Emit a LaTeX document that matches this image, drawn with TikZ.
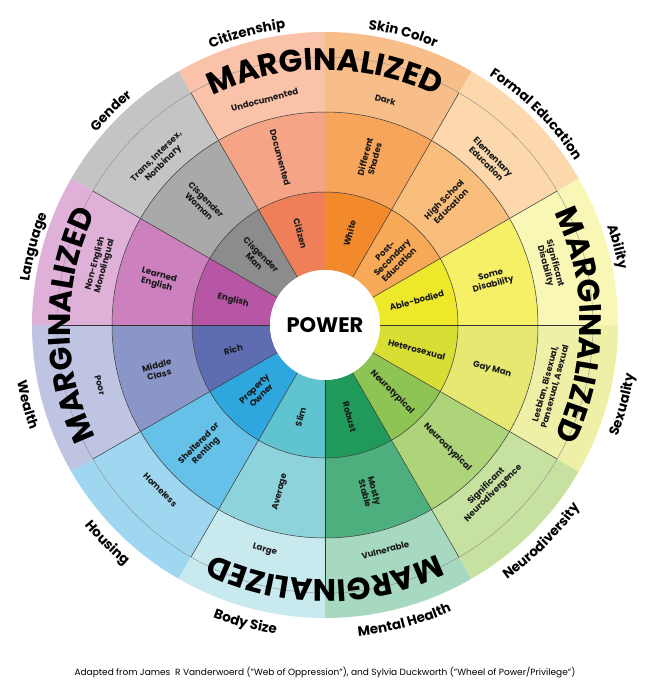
\documentclass[tikz,border=0pt]{standalone}
\usepackage{fontspec}
\setmainfont{Poppins}
\usetikzlibrary{decorations.text}
\newcommand{\margfont}{\fontsize{31}{31}\selectfont\bfseries}
\newcommand{\lblfont}{\fontsize{13.5}{14}\selectfont\bfseries}
\definecolor{ci1}{HTML}{EF7F58}\definecolor{cm1}{HTML}{F5A486}\definecolor{co1}{HTML}{F9C2A9}
\definecolor{ci2}{HTML}{8C8C8C}\definecolor{cm2}{HTML}{A9A9A9}\definecolor{co2}{HTML}{C4C4C4}
\definecolor{ci3}{HTML}{B656A5}\definecolor{cm3}{HTML}{CC80BE}\definecolor{co3}{HTML}{E0B1D8}
\definecolor{ci4}{HTML}{5E6DB2}\definecolor{cm4}{HTML}{8B96C8}\definecolor{co4}{HTML}{BFC4E2}
\definecolor{ci5}{HTML}{2EA6DE}\definecolor{cm5}{HTML}{66C1E8}\definecolor{co5}{HTML}{9FD7F0}
\definecolor{ci6}{HTML}{60C3D0}\definecolor{cm6}{HTML}{8ED2DC}\definecolor{co6}{HTML}{C8E9EE}
\definecolor{ci7}{HTML}{1F9A5A}\definecolor{cm7}{HTML}{4CAF7D}\definecolor{co7}{HTML}{A6D9BF}
\definecolor{ci8}{HTML}{8DC453}\definecolor{cm8}{HTML}{AED47A}\definecolor{co8}{HTML}{C7E1A0}
\definecolor{ci9}{HTML}{D9DE35}\definecolor{cm9}{HTML}{E6E871}\definecolor{co9}{HTML}{EEF0A8}
\definecolor{ci10}{HTML}{EEE82A}\definecolor{cm10}{HTML}{F5F066}\definecolor{co10}{HTML}{F9F7B5}
\definecolor{ci11}{HTML}{F8A957}\definecolor{cm11}{HTML}{F9BD7C}\definecolor{co11}{HTML}{FCD8AC}
\definecolor{ci12}{HTML}{F28A2B}\definecolor{cm12}{HTML}{F6A55A}\definecolor{co12}{HTML}{F8BE8A}
\begin{document}
\begin{tikzpicture}[x=1pt,y=1pt,
  seg/.style={font=\fontsize{8.6}{9.8}\selectfont\bfseries, align=center, text=black!90, inner sep=1pt},
  upl/.style={decorate,decoration={text along path,text align=center,text={|\lblfont|#1}}},
  marg/.style={decorate,decoration={text along path,text align=center,text={|\margfont|MARGINALIZED}}}]
\useasboundingbox (-325,-372) rectangle (324,325);
\foreach \s/\k/\ti/\tm/\tu in {
 90/1/Citizen/Documented/Undocumented,
 120/2/{Cisgender\\Man}/{Cisgender\\Woman}/{Trans, Intersex,\\Nonbinary},
 150/3/English/{Learned\\English}/{Non-English\\Monolingual},
 180/4/Rich/{Middle\\Class}/Poor,
 210/5/{Property\\Owner}/{Sheltered or\\Renting}/Homeless,
 240/6/Slim/Average/Large,
 270/7/Robust/{Mostly\\Stable}/Vulnerable,
 300/8/Neurotypical/Neuroatypical/{Significant\\Neurodivergence},
 330/9/Heterosexual/{Gay Man}/{Lesbian, Bisexual,\\Pansexual, Asexual},
 0/10/Able-bodied/{Some\\Disability}/{Significant\\Disability},
 30/11/{Post-\\Secondary\\Education}/{High School\\Education}/{Elementary\\Education},
 60/12/White/{Different\\Shades}/Dark}{
  \pgfmathsetmacro\e{\s+30}
  \pgfmathsetmacro\m{\s+15}
  \pgfmathsetmacro\ri{mod(\m+450,180)-90}
  \pgfmathsetmacro\ro{mod(\m+540,180)-90}
  \fill[ci\k] (\s:55) arc[start angle=\s,end angle=\e,radius=55] -- (\e:133) arc[start angle=\e,end angle=\s,radius=133] -- cycle;
  \fill[cm\k] (\s:133) arc[start angle=\s,end angle=\e,radius=133] -- (\e:213) arc[start angle=\e,end angle=\s,radius=213] -- cycle;
  \fill[co\k] (\s:213) arc[start angle=\s,end angle=\e,radius=213] -- (\e:293) arc[start angle=\e,end angle=\s,radius=293] -- cycle;
  \draw[line width=0.5pt, black!80] (\s:55) -- (\s:268);
  \node[seg, rotate=\ri] (i\k) at (\m:95) {\ti};
  \node[seg, rotate=\ri] (m\k) at (\m:173) {\tm};
  \node[seg, rotate=\ro] (o\k) at (\m:233) {\tu};
}
\draw[line width=0.5pt, black!80] (0,0) circle[radius=133] (0,0) circle[radius=213];
\draw[line width=0.4pt, black!45] (0,0) circle[radius=268];
\fill[white] (0,0) circle[radius=55];
\node[font=\fontsize{21}{21}\selectfont\bfseries] (power) at (0,0) {POWER};
\path[marg] (118:255) arc[start angle=118,end angle=62,radius=255];
\path[marg] (28:255) arc[start angle=28,end angle=-28,radius=255];
\path[marg] (-62:255) arc[start angle=-62,end angle=-118,radius=255];
\path[marg] (208:255) arc[start angle=208,end angle=152,radius=255];
\path[upl={Citizenship}] (125:299) arc[start angle=125,end angle=85,radius=299];
\path[upl={Gender}] (155:299) arc[start angle=155,end angle=115,radius=299];
\path[upl={Language}] (185:299) arc[start angle=185,end angle=145,radius=299];
\path[upl={Skin Color}] (95:299) arc[start angle=95,end angle=55,radius=299];
\path[upl={Formal Education}] (70:299) arc[start angle=70,end angle=20,radius=299];
\path[upl={Ability}] (35:299) arc[start angle=35,end angle=-5,radius=299];
\path[upl={Sexuality}] (-35:313) arc[start angle=-35,end angle=5,radius=313];
\path[upl={Neurodiversity}] (-70:313) arc[start angle=-70,end angle=-20,radius=313];
\path[upl={Mental Health}] (-100:313) arc[start angle=-100,end angle=-50,radius=313];
\path[upl={Body Size}] (-125:313) arc[start angle=-125,end angle=-85,radius=313];
\path[upl={Housing}] (-155:313) arc[start angle=-155,end angle=-115,radius=313];
\path[upl={Wealth}] (-185:313) arc[start angle=-185,end angle=-145,radius=313];
\node[font=\fontsize{9}{10}\selectfont] (note) at (0,-347) {Adapted from James\ \ R Vanderwoerd ("Web of Oppression"), and Sylvia Duckworth ("Wheel of Power/Privilege")};
\end{tikzpicture}
\end{document}
